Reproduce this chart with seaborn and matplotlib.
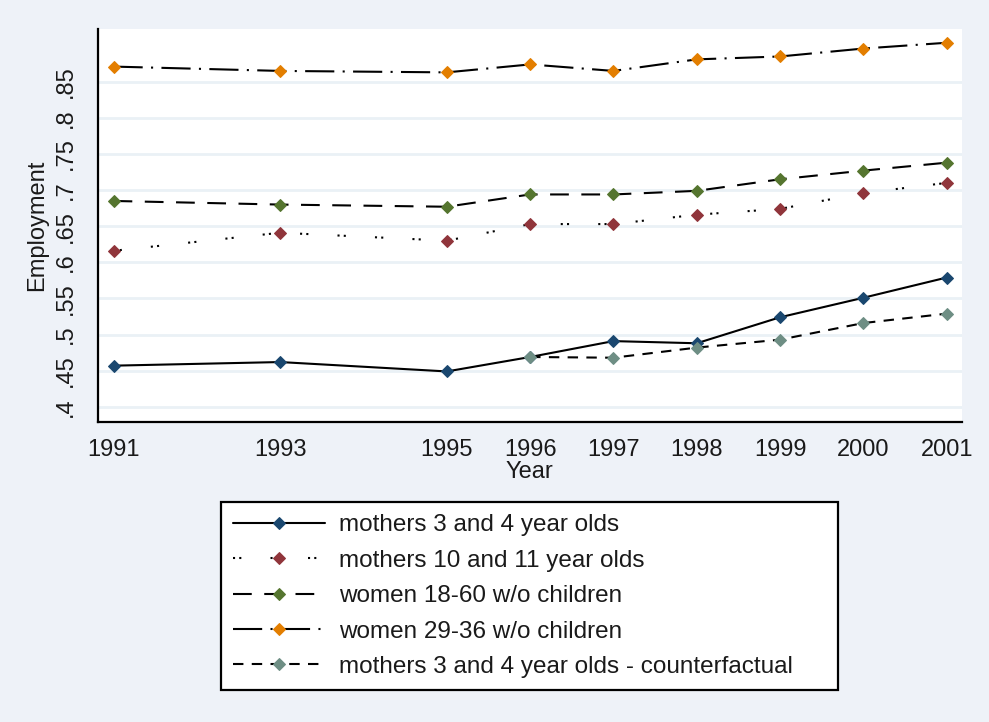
import matplotlib
matplotlib.use("Agg")
import matplotlib.pyplot as plt
import seaborn as sns

sns.set_style("white")
plt.rcParams["font.family"] = ["Liberation Sans", "DejaVu Sans"]

BG = "#EEF2F8"
GRID = "#EAF1F6"

# values
years = [1991, 1993, 1995, 1996, 1997, 1998, 1999, 2000, 2001]
years_cf = [1996, 1997, 1998, 1999, 2000, 2001]

mothers_3_4 = [0.457, 0.462, 0.449, 0.469, 0.491, 0.488, 0.524, 0.551, 0.579]
mothers_10_11 = [0.616, 0.641, 0.630, 0.653, 0.653, 0.666, 0.674, 0.696, 0.710]
women_18_60 = [0.685, 0.680, 0.677, 0.694, 0.694, 0.699, 0.715, 0.727, 0.738]
women_29_36 = [0.871, 0.865, 0.863, 0.874, 0.865, 0.881, 0.885, 0.896, 0.904]
mothers_3_4_cf = [0.469, 0.468, 0.482, 0.493, 0.516, 0.529]

yticks = [0.40, 0.45, 0.50, 0.55, 0.60, 0.65, 0.70, 0.75, 0.80, 0.85]
ytick_labels = [".4", ".45", ".5", ".55", ".6", ".65", ".7", ".75", ".8", ".85"]

series = [
    ("mothers 3 and 4 year olds", years, mothers_3_4, "#1A476F", "-"),
    ("mothers 10 and 11 year olds", years, mothers_10_11, "#90353B", (0, (1, 2, 1, 14))),
    ("women 18-60 w/o children", years, women_18_60, "#55752F", (0, (9, 6))),
    ("women 29-36 w/o children", years, women_29_36, "#E37E00", (0, (14, 4, 1, 4))),
    ("mothers 3 and 4 year olds - counterfactual", years_cf, mothers_3_4_cf, "#6E8E84", (0, (5, 4))),
]

fig = plt.figure(figsize=(9.89, 7.22), dpi=100, facecolor=BG)
ax = fig.add_axes([0.0988, 0.4155, 0.8736, 0.5443])
ax.set_facecolor("white")

for name, xs, ys, col, ls in series:
    sns.lineplot(x=xs, y=ys, ax=ax, color="black", lw=1.5, linestyle=ls,
                 marker="D", markersize=6.5, markerfacecolor=col,
                 markeredgecolor=col, label=name)

ax.set_xlim(1990.81, 2001.18)
ax.set_ylim(0.379, 0.923)
ax.set_xticks(years)
ax.set_xticklabels([str(y) for y in years])
ax.set_yticks(yticks)
ax.set_yticklabels(ytick_labels, rotation=90, va="center")

ax.grid(axis="y", color=GRID, lw=2)
ax.set_axisbelow(True)
for side in ["top", "right"]:
    ax.spines[side].set_visible(False)
for side in ["left", "bottom"]:
    ax.spines[side].set_color("black")
    ax.spines[side].set_linewidth(1.6)

ax.tick_params(axis="both", direction="out", length=7, width=1.2, color="black",
               labelsize=17, labelcolor="#1a1a1a")
ax.tick_params(axis="y", pad=8)
ax.tick_params(axis="x", pad=5)

ax.set_xlabel("Year", fontsize=17, color="#1a1a1a", labelpad=0)
ax.set_ylabel("Employment", fontsize=17, color="#1a1a1a", labelpad=5)

handles, labels = ax.get_legend_handles_labels()
ax.get_legend().remove()
leg = fig.legend(handles, labels, loc="upper left",
                 bbox_to_anchor=(0.2232, 0.0489, 0.6239, 0.2554),
                 mode="expand", ncol=1, fontsize=17.5, frameon=True,
                 fancybox=False, edgecolor="black", facecolor="white",
                 framealpha=1, handlelength=3.8, handletextpad=0.55,
                 borderpad=0.5, labelspacing=0.55, numpoints=1,
                 borderaxespad=0)
leg.get_frame().set_linewidth(1.6)
for t in leg.get_texts():
    t.set_color("#1a1a1a")

plt.savefig("out.png", dpi=100, facecolor=BG)
